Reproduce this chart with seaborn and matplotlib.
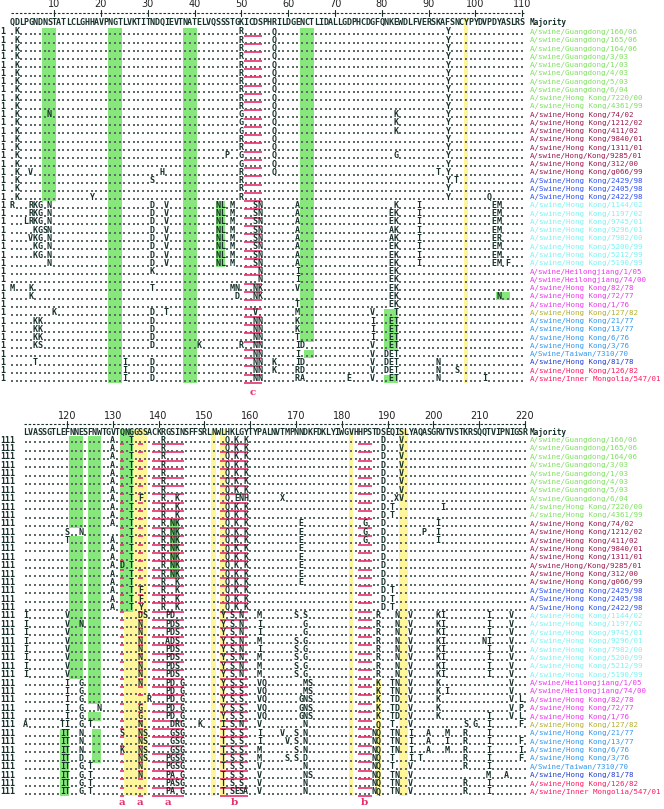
import matplotlib
matplotlib.use("Agg")
import matplotlib.pyplot as plt
from matplotlib.patches import Rectangle
import pandas as pd
import seaborn as sns

sns.set_style("white")
plt.rcParams['font.family'] = ['DejaVu Sans Mono', 'DejaVu Sans']

# ---------------- data ----------------
strains = [
    "A/swine/Guangdong/166/06", "A/swine/Guangdong/165/06", "A/swine/Guangdong/164/06",
    "A/swine/Guangdong/3/03", "A/swine/Guangdong/1/03", "A/swine/Guangdong/4/03",
    "A/swine/Guangdong/5/03", "A/swine/Guangdong/6/04", "A/swine/Hong Kong/7220/00",
    "A/swine/Hong Kong/4361/99", "A/swine/Hong Kong/74/02", "A/swine/Hong Kong/1212/02",
    "A/swine/Hong Kong/411/02", "A/swine/Hong Kong/9840/01", "A/swine/Hong Kong/1311/01",
    "A/swine/Hong/Kong/9285/01", "A/swine/Hong Kong/312/00", "A/swine/Hong Kong/g066/99",
    "A/Swine/Hong Kong/2429/98", "A/Swine/Hong Kong/2405/98", "A/Swine/Hong Kong/2422/98",
    "A/swine/Hong Kong/1144/02", "A/swine/Hong Kong/1197/02", "A/swine/Hong Kong/9745/01",
    "A/swine/Hong Kong/9296/01", "A/swine/Hong Kong/7982/00", "A/swine/Hong Kong/5200/99",
    "A/swine/Hong Kong/5212/99", "A/swine/Hong Kong/5190/99", "A/swine/Heilongjiang/1/05",
    "A/swine/Heilongjiang/74/00", "A/swine/Hong Kong/82/78", "A/swine/Hong Kong/72/77",
    "A/swine/Hong Kong/1/76", "A/swine/Hong Kong/127/82", "A/swine/Hong Kong/21/77",
    "A/swine/Hong Kong/13/77", "A/swine/Hong Kong/6/76", "A/swine/Hong Kong/3/76",
    "A/Swine/Taiwan/7310/70", "A/swine/Hong Kong/81/78", "A/swine/Hong Kong/126/82",
    "A/swine/Inner Mongolia/547/01",
]
strain_group = (["gd"] * 10 + ["hk2000s"] * 8 + ["hk98"] * 3 + ["cyan"] * 8 + ["mag"] * 5
                + ["olive"] + ["sky"] * 5 + ["navy"] + ["red"] * 2)
group_colors = {
    "gd": "#7fe060", "hk2000s": "#9a1a4e", "hk98": "#3050f0", "cyan": "#7ff2f2",
    "mag": "#ee38ee", "olive": "#b2b030", "sky": "#3398ee", "navy": "#2540d0", "red": "#ff1a60",
}

top_start = 1
top_majority = ("QDLPGNDNSTATLCLGHHAVPNGTLVKTITNDQIEVTNATELVQSSSTGKICDSPHRILD"
                "GENCTLIDALLGDPHCDGFQNKEWDLFVERSKAFSNCYPYDVPDYASLRS")
bottom_start = 111
bottom_majority = ("LVASSGTLEFNNESFNWTGVTQNGGSSACKRGSINSFFSRLNWLHKLGYTYPALNVTMPN"
                   "NDKFDKLYIWGVHHPSTDSEQISLYAQASGRVTVSTKRSQQTVIPNIGSR")

# residues that differ from the majority: "<position><letters>"
top_changes = (
    ["2K 50R 57Q 94Y"] * 10 + [
    "2K 9N 50G 57Q 83K 94Y",
    "2K 50G 57Q 83K 94Y",
    "2K 50G 57Q 83K 94Y",
    "2K 50R 57Q 94Y",
    "2K 50R 57Q 94Y",
    "2K 47P 50G 57Q 83G 94Y",
    "2K 50G 57Q 94Y",
    "2K 5V 33H 50R 57Q 92T 94Y",
    "2K 31S 50R 94Y 96T",
    "2K 50R 94Y",
    "2K 18Y 50R 94Y 103Q",
    "1R 5RKG 9N 31D 34V 45NL 48M 53SN 62A 83K 88I 104EM",
    "5RKG 9N 31D 34V 45NL 48M 53SN 62A 82EK 88I 104EM",
    "4LRKG 9N 31D 34V 45NL 48M 53SN 62A 82EK 88I 104EM",
    "6KGSN 31D 34V 45NL 48M 53SN 62A 82AK 88I 104EM",
    "5VKG 9N 31D 34V 45NL 48M 53SN 62A 82AK 88I 104ER",
    "6KG 9N 31D 34V 45NL 48M 53SN 62A 82EK 88I 104EM",
    "6KG 9N 31D 34V 45NL 48M 53SN 62A 82EK 88I 104EM",
    "9N 31D 34V 45NL 48M 53SN 62A 82EK 88I 104EM 107F",
    "31K 54N 62I 82EK",
    "54N 62I 82EK",
    "1M 5K 31T 48MN 53NK 62V 82EK",
    "5K 49D 53NK 82EK 105N",
    "62T 82EK",
    "10K 31D 34T 53V 62M 78V 83T",
    "6KK 31D 53NN 62K 78I 82ET",
    "6KK 31D 53NN 62K 78I 82ET",
    "6KK 31D 53NN 62T 78I 82ET",
    "6KS 31D 41K 50R 53NN 62ID 78V 82ET",
    "53NN 62I 78V 81DET",
    "6T 25I 31D 53NN 57K 62ID 78V 81DET 92N",
    "25I 31D 53NN 57K 62RD 78V 81DET 92N 96S",
    "25I 31D 53NN 62RA 73E 78V 82ET 92N 102I",
])

bottom_changes = (
    ["130A 134T 141R 155Q 157K 159K 189D 193V"] * 7 + [
    "130A 134T 136F 141R 144K 155Q 157ENH 167X 189D 192XV",
    "130A 134T 141R 144K 155Q 157K 159K 189D 191T 202I",
    "130A 134T 141R 144K 155Q 157K 159K 189D 191T",
    "130A 134T 141R 143NK 155Q 157K 159K 171E 185G 189D 201I",
    "120S 123N 134T 141R 143NK 155Q 157K 159K 171E 185G 189D 198P 201I",
    "120T 130A 134T 141R 143NK 155Q 157K 159K 171E 185G 189D 201I",
    "130A 134T 141R 143NK 155Q 157K 159K 171E 189D",
    "130A 134T 141R 143NK 155Q 157K 159K 171E 189D",
    "130A 132D 134T 141R 143NK 155Q 157K 159K 171E 189D",
    "130A 134T 141R 143NK 155Q 157K 159K 171E 189D",
    "130A 134T 141R 144K 155Q 157K 159K 171E 189D",
    "130A 134T 136F 141R 144K 155Q 157K 159K 189D 191T",
    "130A 134T 136F 141R 144K 155Q 157K 159K 189D 191T",
    "130A 134T 136Y 141R 144K 155Q 157K 159K 189D 191T",
    "111I 120V 136DS 142PD 154Y 156S 158N 162M 170S 172S 188R 192N 195V 201KI 212I 217V",
    "111I 120V 123N 136N 142PDS 154Y 156S 158N 162I 172G 188R 192N 195V 201KI 212I 217V",
    "111I 120V 136N 142PDS 154Y 156S 158N 162I 172G 188R 192N 195V 201KI 212I 217V",
    "111I 120V 136N 142ADS 154Y 156S 158N 162M 170S 172G 188R 192N 195V 201KI 211NI 217V",
    "111I 120V 136N 142PDS 154Y 156S 158N 162I 170S 172G 188R 192N 195V 201KI 212I 217V",
    "111I 120V 136N 142PDS 154Y 156S 158N 162M 170S 172G 188R 192N 195V 201KI 212I 217V",
    "111I 120V 136N 142PDS 154Y 156S 158N 162M 170S 172G 188R 192N 195V 201KI 212I 217V",
    "111I 120V 136N 142PDS 154Y 156S 158N 162M 170S 172G 188R 192N 195V 201KI 212I 217V",
    "120I 123G 136N 142PD 145G 154Y 156S 158S 162VQ 172MS 188K 191TN 195V 201K 217V",
    "120I 123G 142PD 145G 154Y 156S 158S 162VQ 172MS 188K 191TN 195V 201K 203I 217V",
    "120I 123G 138R 142PD 145G 154Y 156S 158S 162VQ 171GNS 188K 191TD 195V 201K 217V 219L",
    "120I 123G 127N 136G 142PD 145G 154Y 156S 158S 162VQ 171GNS 188K 191TD 195V 201K 217V 219P",
    "120I 123G 136G 142PD 145G 154Y 156S 158S 162VQ 171GNS 188K 191TD 195V 201K 212I 217V 219L",
    "111A 119TI 123G 125T 136N 143DRG 149K 154I 156S 158N 162V 172N 188Q 191T 195V 207S 209G 212I 219F",
    "119IT 123N 132S 136NS 143GSG 154T 156S 158S 162I 167V 170S 172N 187NQ 191TN 195I 199A 203M 207R 212I",
    "119IT 123N 136NS 143GSG 154T 156S 158S 162I 168V 170S 172N 187NQ 191TN 195I 199A 203I 207R 212I 219F",
    "119IT 123N 132K 136NS 143GSG 154T 156S 158S 162M 170S 172N 187NQ 191TN 195I 199A 203M 207R 212I 219I",
    "119IT 123D 136NS 142PGSG 154T 156S 158S 162M 168S 170S 172D 187NQ 191T 195I 197T 207R 212I 219F",
    "119IT 123G 125T 136N 142PGSG 154T 156S 158S 162V 172N 187NQ 191T 195V 207R 212I",
    "119IT 123G 125T 136N 142PA.G 154T 156S 158S 162V 172NS 187NQ 191TN 195V 212M 216A",
    "119IT 123G 125T 142PASG 154T 156S 158S 162V 172N 187NQ 191TN 195V 207R 212I",
    "119IT 123G 125T 142PA.G 154T 156SESA 162V 172N 187NQ 191TN 195V 207R 212I",
])

# shaded blocks: (first residue, last residue, first row, last row), row 0 = Majority
top_green = [(8, 10, 1, 21), (22, 24, 1, 43), (38, 40, 1, 43), (63, 65, 1, 38), (64, 65, 40, 40),
             (45, 46, 22, 29), (105, 107, 33, 33), (81, 83, 35, 39), (81, 83, 43, 43)]
top_yellow = [(98, 98, 0, 43)]
bottom_green = [(121, 123, 1, 11), (121, 123, 13, 29), (125, 127, 1, 32), (125, 127, 34, 34),
                (126, 127, 36, 39), (119, 120, 36, 43), (132, 134, 0, 21), (143, 144, 11, 17)]
bottom_yellow = [(135, 137, 0, 21), (133, 137, 22, 43), (152, 152, 0, 43), (154, 154, 0, 43),
                 (182, 182, 0, 43), (193, 194, 0, 43), (188, 188, 30, 43)]

# red underlined motifs and their labels
top_motifs = [(51, 54, "c")]
bottom_motifs = [(132, 132, "a"), (136, 136, "a"), (139, 145, "a"), (154, 159, "b"), (184, 186, "b")]

GREEN = "#86e87a"
YELLOW = "#fff59a"
RED = "#e8306a"
INK = "#17302a"


def parse(text):
    out = {}
    for tok in text.split():
        i = 0
        while tok[i].isdigit():
            i += 1
        p = int(tok[:i])
        for k, ch in enumerate(tok[i:]):
            if ch != ".":
                out[p + k] = ch
    return out


def draw_panel(ax, start, majority, changes, greens, yellows, motifs,
               xlim, ylim, maj_row, ruler_row, num_row, row_tag, label_row, name_x):
    end = start + len(majority) - 1
    ax.set_xlim(*xlim)
    ax.set_ylim(*ylim)
    ax.axis("off")

    for s, e, r0, r1 in greens:
        r0 = maj_row if r0 == 0 else r0
        ax.add_patch(Rectangle((s - 0.5, r0 - 0.5), e - s + 1, r1 - r0 + 1, color=GREEN, lw=0, zorder=0))
    for s, e, r0, r1 in yellows:
        r0 = maj_row if r0 == 0 else r0
        ax.add_patch(Rectangle((s - 0.5, r0 - 0.5), e - s + 1, r1 - r0 + 1, color=YELLOW, lw=0, zorder=0))

    # ruler
    ax.plot([start - 0.3, end + 0.3], [ruler_row, ruler_row], color=INK, lw=0.8,
            dashes=(2.2, 1.6), zorder=2)
    for t in range((start // 10 + 1) * 10, end + 1, 10):
        ax.plot([t, t], [ruler_row - 0.35, ruler_row + 0.35], color=INK, lw=0.8)
        ax.text(t, num_row, str(t), ha="center", va="center", fontsize=7,
                family="DejaVu Sans", color="#222")

    # majority
    for i, ch in enumerate(majority):
        ax.text(start + i, maj_row, ch, ha="center", va="center", fontsize=6,
                fontweight="bold", color=INK, zorder=3)
    ax.text(name_x, maj_row, "Majority", ha="left", va="center", fontsize=5.6,
            fontweight="bold", color=INK)

    dots = []
    for r, (ch_text, name, grp) in enumerate(zip(changes, strains, strain_group), start=1):
        diff = parse(ch_text)
        for p in range(start, end + 1):
            if p in diff:
                ax.text(p, r, diff[p], ha="center", va="center", fontsize=6,
                        fontweight="bold", color=INK, zorder=3)
            else:
                dots.append((p, r + 0.28))
        ax.text(xlim[0] + 0.1, r, row_tag, ha="left", va="center", fontsize=6,
                fontweight="bold", color=INK)
        ax.text(name_x, r, name, ha="left", va="center", fontsize=5.4,
                color=group_colors[grp])

    dot_df = pd.DataFrame(dots, columns=["pos", "row"])
    sns.scatterplot(data=dot_df, x="pos", y="row", ax=ax, marker="s", s=0.8,
                    color="#5f6b69", linewidth=0, legend=False, zorder=1)
    ax.set_xlabel("")
    ax.set_ylabel("")

    nrows = len(changes)
    for s, e, lab in motifs:
        ax.hlines([r + 0.48 for r in range(1, nrows + 1)], s - 0.5, e + 0.5,
                  color=RED, lw=1.2, zorder=2)
        ax.text((s + e) / 2, label_row, lab, ha="center", va="center", fontsize=7.5,
                family="DejaVu Serif", fontweight="bold", color=RED)


fig = plt.figure(figsize=(6.64, 8.09), dpi=100)
ax_top = fig.add_axes([0, 405 / 809, 1, 404 / 809])
ax_bot = fig.add_axes([0, 0, 1, 405 / 809])

draw_panel(ax_top, top_start, top_majority, top_changes, top_green, top_yellow, top_motifs,
           xlim=(-1.564, 140.32), ylim=(46.04, -2.874),
           maj_row=-0.2, ruler_row=-1.3, num_row=-2.4, row_tag="1", label_row=44.6,
           name_x=111.7)
draw_panel(ax_bot, bottom_start, bottom_majority, bottom_changes, bottom_green, bottom_yellow,
           bottom_motifs, xlim=(105.37, 250.35), ylim=(45.03, -3.296),
           maj_row=0.15, ruler_row=-0.91, num_row=-1.86, row_tag="111", label_row=44.3,
           name_x=221.1)

fig.savefig("out.png", dpi=100)
